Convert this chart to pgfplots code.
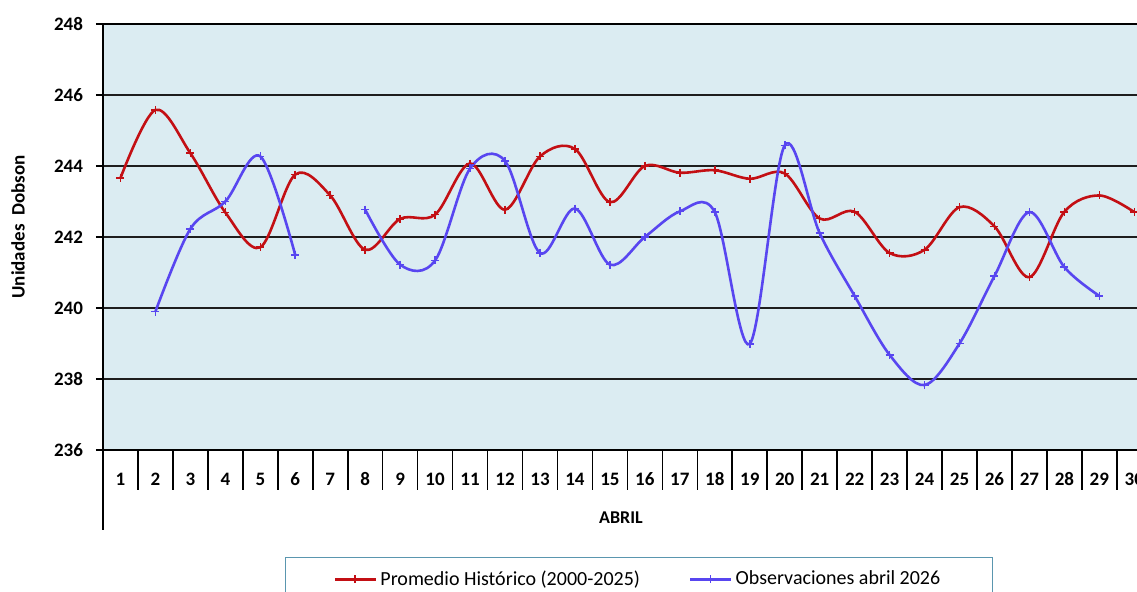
\documentclass[border=0pt]{standalone}
\usepackage{pgfplots}
\pgfplotsset{compat=1.18}
\usepackage{fontspec}
\setmainfont{Carlito}
\definecolor{bgblue}{RGB}{219,236,242}
\definecolor{redline}{RGB}{195,15,20}
\definecolor{blueline}{RGB}{88,70,240}
\definecolor{legborder}{RGB}{90,150,175}
\definecolor{gridc}{RGB}{30,30,30}
\begin{document}
\begin{tikzpicture}
\begin{axis}[
  at={(51.5pt,71pt)}, anchor=south west,
  scale only axis, width=524.4pt, height=213pt,
  xmin=0.5, xmax=30.5, ymin=236, ymax=248,
  axis background/.style={fill=bgblue},
  axis line style={black, line width=0.8pt},
  xtick={1,...,30}, xtick pos=bottom,
  ytick={236,238,...,248}, ytick pos=left,
  ymajorgrids, grid style={gridc, line width=0.85pt},
  x tick style={draw=none},
  y tick style={black, line width=0.8pt},
  tick align=outside, major tick length=3.5pt,
  extra x ticks={1.5,2.5,...,29.5},
  extra x tick labels={},
  extra x tick style={x tick style={draw=black, line width=0.8pt}, major tick length=20pt, tick align=outside, grid=none},
  /pgf/number format/assume math mode=true,
  ticklabel style={font=\fontsize{9.5}{11}\selectfont\bfseries},
  xticklabel style={anchor=center, yshift=-11pt},
  yticklabel style={anchor=east, xshift=-3pt},
  legend columns=2,
  legend style={at={(0.1738,-0.2512)}, anchor=north west, draw=legborder, line width=0.6pt,
    font=\fontsize{10}{12}\selectfont, inner xsep=24pt, inner ysep=4.5pt,
    /tikz/every even column/.append style={column sep=22.5pt}},
  legend image code/.code={\draw[#1, mark repeat=2, mark phase=2] plot coordinates {(0pt,0pt) (10pt,0pt) (20pt,0pt)};},
  every axis plot/.append style={line width=1.3pt, smooth, tension=0.55, mark=+, mark size=2pt, mark options={line width=0.8pt}},
]
\addplot[redline] coordinates {
(1,243.66) (2,245.58) (3,244.36) (4,242.69) (5,241.71) (6,243.76) (7,243.17) (8,241.64) (9,242.51) (10,242.63)
(11,244.07) (12,242.77) (13,244.27) (14,244.48) (15,242.98) (16,244.00) (17,243.81) (18,243.88) (19,243.64) (20,243.79)
(21,242.52) (22,242.71) (23,241.55) (24,241.64) (25,242.84) (26,242.30) (27,240.87) (28,242.71) (29,243.17) (30,242.70)
};
\addlegendentry{Promedio Histórico (2000-2025)}
\addplot[blueline] coordinates {
(2,239.90) (3,242.23) (4,243.00) (5,244.27) (6,241.49)
};
\addlegendentry{Observaciones abril 2026}
\addplot[blueline, forget plot] coordinates {
(8,242.77) (9,241.22) (10,241.34) (11,243.93) (12,244.14) (13,241.55) (14,242.80) (15,241.22) (16,242.00) (17,242.72)
(18,242.70) (19,238.99) (20,244.58) (21,242.11) (22,240.34) (23,238.68) (24,237.83) (25,239.00) (26,240.90) (27,242.70)
(28,241.15) (29,240.34)
};
\end{axis}
\draw[black, line width=0.8pt] (51.5pt,71pt) -- (51.5pt,31pt);
\node[font=\fontsize{9}{11}\selectfont\bfseries] at (310.5pt,37pt) {ABRIL};
\node[font=\fontsize{9.5}{11}\selectfont\bfseries, rotate=90] at (9pt,182.5pt) {Unidades\ \ Dobson};
\pgfresetboundingbox
\useasboundingbox (0,0) rectangle (568.5pt,296pt);
\end{tikzpicture}
\end{document}
